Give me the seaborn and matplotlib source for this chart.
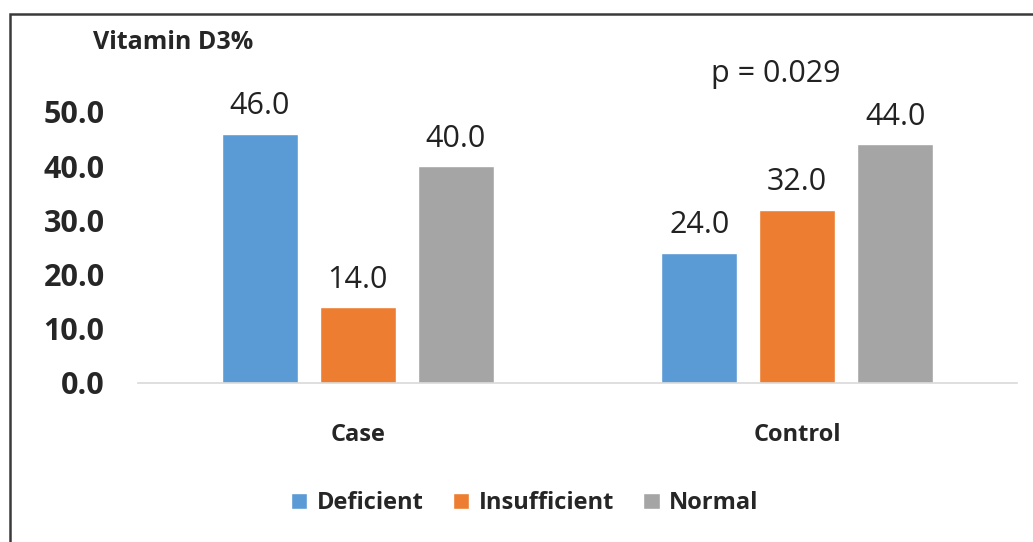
import matplotlib
matplotlib.use("Agg")
import matplotlib.pyplot as plt
import pandas as pd
import seaborn as sns

groups = ["Case", "Control"]
levels = ["Deficient", "Insufficient", "Normal"]
case_pct = [46.0, 14.0, 40.0]
control_pct = [24.0, 32.0, 44.0]
yticks = [0.0, 10.0, 20.0, 30.0, 40.0, 50.0]
colors = ["#5B9BD5", "#ED7D31", "#A5A5A5"]

df = pd.DataFrame({
    "group": [groups[0]] * 3 + [groups[1]] * 3,
    "level": levels * 2,
    "pct": case_pct + control_pct,
})

sns.set_theme(style="white")
plt.rcParams["font.family"] = ["Open Sans", "DejaVu Sans"]

fig = plt.figure(figsize=(10.33, 5.42), dpi=100)
ax = fig.add_axes([0.1336, 0.2934, 0.8509, 0.6])

sns.barplot(data=df, x="group", y="pct", hue="level", palette=colors,
            width=0.668, gap=0.224, saturation=1, ax=ax, legend=True)

# value labels above each bar
for c in ax.containers:
    ax.bar_label(c, fmt="%.1f", padding=9, fontsize=22, color="#222222")

ax.set_ylim(0, 60)
ax.set_xlim(-0.5, 1.5)
ax.set_yticks(yticks)
ax.set_yticklabels([f"{v:.1f}" for v in yticks], fontsize=22, fontweight="bold")
ax.tick_params(axis="y", length=0, pad=24)
ax.tick_params(axis="x", length=0, pad=29, labelsize=17)
for t in ax.get_xticklabels():
    t.set_fontweight("bold")
ax.set_xlabel("")
ax.set_ylabel("")
for s in ["top", "right", "left"]:
    ax.spines[s].set_visible(False)
ax.spines["bottom"].set_color("#D9D9D9")
ax.spines["bottom"].set_linewidth(1.2)

ax.text(0.95, 57.0, "p = 0.029", ha="center", va="center", fontsize=22, color="#222222")
fig.text(0.09, 0.922, "Vitamin D3%", ha="left", va="center", fontsize=18, fontweight="bold")

h, l = ax.get_legend_handles_labels()
ax.legend_.remove()
fig.legend(h, l, loc="center", bbox_to_anchor=(0.508, 0.072), ncol=3, frameon=False,
           handlelength=0.68, handleheight=0.68, handletextpad=0.4, columnspacing=1.25,
           prop={"size": 17, "weight": "bold"})

border = plt.Rectangle((0.0092, -0.1), 1.2, 1.074, transform=fig.transFigure,
                       fill=False, edgecolor="#3A3A3A", linewidth=1.8)
fig.add_artist(border)

fig.savefig("out.png", dpi=100)
